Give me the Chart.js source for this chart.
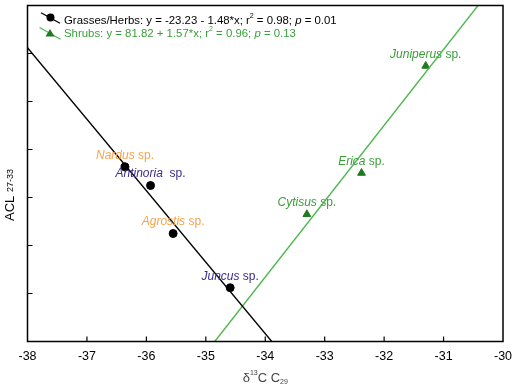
<!DOCTYPE html>
<html>
<head>
<meta charset="utf-8">
<script src="https://cdn.jsdelivr.net/npm/chart.js@4"></script>
<style>
html, body { margin: 0; padding: 0; background: #fff; }
#wrap { width: 512px; height: 386px; }
</style>
</head>
<body>
<div id="wrap"><canvas id="chart"></canvas></div>
<script>
// точки - треви/билки
const grassNames = ['Nardus', 'Antinoria', 'Agrostis', 'Juncus'];
const grassX = [-36.36, -35.93, -35.55, -34.59];
const grassY = [30.64, 30.25, 29.25, 28.12];

// точки - храсти
const shrubNames = ['Juniperus', 'Erica', 'Cytisus'];
const shrubX = [-31.30, -32.38, -33.30];
const shrubY = [32.74, 30.51, 29.65];

// регресионни линии (крайни точки)
const grassLineX = [-38, -33.89];
const grassLineY = [33.12, 27];
const shrubLineX = [-34.85, -30.42];
const shrubLineY = [27, 34];

const xTicks = [-38, -37, -36, -35, -34, -33, -32, -31, -30];
const yTicks = [27, 28, 29, 30, 31, 32, 33, 34];

const ORANGE = '#f5a24c';
const BLUE = '#3b2c8e';
const GREEN_TXT = '#3a9e3a';
const GREEN_LINE = '#4cb84c';
const GREEN_MARK = '#1f7a1f';
const FONT = '"Liberation Sans", Arial, sans-serif';

const grassColors = [ORANGE, BLUE, ORANGE, BLUE];
const grassSep = [' sp.', '  sp.', ' sp.', ' sp.'];

function toPts(xs, ys) {
    return xs.map((x, i) => ({ x: x, y: ys[i] }));
}

// рисува поредица от текстови парчета (курсив, горен/долен индекс)
function drawRuns(ctx, runs, x, y) {
    let cx = x;
    runs.forEach(r => {
        ctx.font = (r.italic ? 'italic ' : '') + r.size + 'px ' + FONT;
        ctx.fillStyle = r.color;
        ctx.fillText(r.t, cx, y + (r.dy || 0));
        cx += ctx.measureText(r.t).width;
    });
    return cx - x;
}

function runsWidth(ctx, runs) {
    let w = 0;
    runs.forEach(r => {
        ctx.font = (r.italic ? 'italic ' : '') + r.size + 'px ' + FONT;
        w += ctx.measureText(r.t).width;
    });
    return w;
}

const decorPlugin = {
    id: 'decor',
    afterDraw(chart) {
        const ctx = chart.ctx;
        const a = chart.chartArea;
        const xs = chart.scales.x;
        const ys = chart.scales.y;
        ctx.save();

        // рамка и вътрешни чертички
        ctx.strokeStyle = '#000';
        ctx.lineWidth = 1.5;
        ctx.strokeRect(a.left, a.top, a.right - a.left, a.bottom - a.top);
        ctx.lineWidth = 1.2;
        ctx.beginPath();
        xTicks.slice(1, -1).forEach(v => {
            const p = xs.getPixelForValue(v);
            ctx.moveTo(p, a.bottom);
            ctx.lineTo(p, a.bottom - 5);
        });
        yTicks.slice(1, -1).forEach(v => {
            const p = ys.getPixelForValue(v);
            ctx.moveTo(a.left, p);
            ctx.lineTo(a.left + 5, p);
        });
        ctx.stroke();

        // етикети на точките
        ctx.textBaseline = 'middle';
        const lab = (names, dsIndex, colors, seps) => {
            const meta = chart.getDatasetMeta(dsIndex);
            names.forEach((n, i) => {
                const el = meta.data[i];
                const runs = [
                    { t: n, size: 12, italic: true, color: colors[i] },
                    { t: seps[i], size: 12, color: colors[i] }
                ];
                const w = runsWidth(ctx, runs);
                drawRuns(ctx, runs, el.x - w / 2, el.y - 11.5);
            });
        };
        lab(grassNames, 2, grassColors, grassSep);
        lab(shrubNames, 3, shrubNames.map(() => GREEN_TXT), shrubNames.map(() => ' sp.'));

        // легенда
        ctx.strokeStyle = '#000';
        ctx.lineWidth = 1.3;
        ctx.beginPath();
        ctx.moveTo(41, 12.7);
        ctx.lineTo(60, 23.3);
        ctx.stroke();
        ctx.fillStyle = '#000';
        ctx.beginPath();
        ctx.arc(50.5, 17.5, 4, 0, Math.PI * 2);
        ctx.fill();
        ctx.strokeStyle = GREEN_LINE;
        ctx.beginPath();
        ctx.moveTo(39.5, 27.5);
        ctx.lineTo(60.5, 39.3);
        ctx.stroke();
        ctx.fillStyle = GREEN_MARK;
        ctx.beginPath();
        ctx.moveTo(50, 29);
        ctx.lineTo(54.5, 36.5);
        ctx.lineTo(45.5, 36.5);
        ctx.closePath();
        ctx.fill();

        const LS = 11.4;
        drawRuns(ctx, [
            { t: 'Grasses/Herbs: y = -23.23 - 1.48*x; r', size: LS, color: '#000' },
            { t: '2', size: 7, color: '#000', dy: -4.5 },
            { t: ' = 0.98; ', size: LS, color: '#000' },
            { t: 'p', size: LS, italic: true, color: '#000' },
            { t: ' = 0.01', size: LS, color: '#000' }
        ], 64, 20.7);
        drawRuns(ctx, [
            { t: 'Shrubs: y = 81.82 + 1.57*x; r', size: LS, color: GREEN_TXT },
            { t: '2', size: 7, color: GREEN_TXT, dy: -4.5 },
            { t: ' = 0.96; ', size: LS, color: GREEN_TXT },
            { t: 'p', size: LS, italic: true, color: GREEN_TXT },
            { t: ' = 0.13', size: LS, color: GREEN_TXT }
        ], 64, 33.5);

        // заглавия на осите
        ctx.textBaseline = 'middle';
        const xt = [
            { t: '\u03b4', size: 13, color: '#444' },
            { t: '13', size: 7, color: '#444', dy: -5 },
            { t: 'C C', size: 13, color: '#444' },
            { t: '29', size: 7, color: '#444', dy: 4 }
        ];
        drawRuns(ctx, xt, (a.left + a.right) / 2 - runsWidth(ctx, xt) / 2, 378);

        ctx.translate(10, 195);
        ctx.rotate(-Math.PI / 2);
        const yt = [
            { t: 'ACL ', size: 13, color: '#000' },
            { t: '27-33', size: 9, color: '#000', dy: 1 }
        ];
        drawRuns(ctx, yt, -runsWidth(ctx, yt) / 2, 0);
        ctx.restore();
    }
};

new Chart(document.getElementById('chart'), {
    type: 'scatter',
    data: {
        datasets: [
            {
                type: 'line',
                data: toPts(grassLineX, grassLineY),
                borderColor: '#000',
                borderWidth: 1.3,
                pointRadius: 0
            },
            {
                type: 'line',
                data: toPts(shrubLineX, shrubLineY),
                borderColor: GREEN_LINE,
                borderWidth: 1.3,
                pointRadius: 0
            },
            {
                data: toPts(grassX, grassY),
                backgroundColor: '#000',
                borderColor: '#000',
                pointRadius: 4
            },
            {
                data: toPts(shrubX, shrubY),
                pointStyle: 'triangle',
                backgroundColor: GREEN_MARK,
                borderColor: GREEN_MARK,
                pointRadius: 4.5
            }
        ]
    },
    options: {
        responsive: true,
        maintainAspectRatio: false,
        animation: false,
        layout: { padding: { top: 2.5, right: 9, left: 0, bottom: 0 } },
        plugins: {
            legend: { display: false },
            tooltip: { enabled: false }
        },
        scales: {
            x: {
                type: 'linear',
                min: -38,
                max: -30,
                grid: { display: false },
                border: { display: false },
                afterBuildTicks: s => { s.ticks = xTicks.map(v => ({ value: v })); },
                afterFit: s => {
                    s.height = 44.5;
                    s.paddingLeft = 0;
                    s.paddingRight = 0;
                },
                ticks: {
                    padding: 0,
                    color: '#000',
                    font: { family: FONT, size: 12.5 }
                }
            },
            y: {
                type: 'linear',
                min: 27,
                max: 34,
                grid: { display: false },
                border: { display: false },
                ticks: { display: false },
                afterFit: s => { s.width = 27.5; }
            }
        }
    },
    plugins: [decorPlugin]
});
</script>
</body>
</html>
